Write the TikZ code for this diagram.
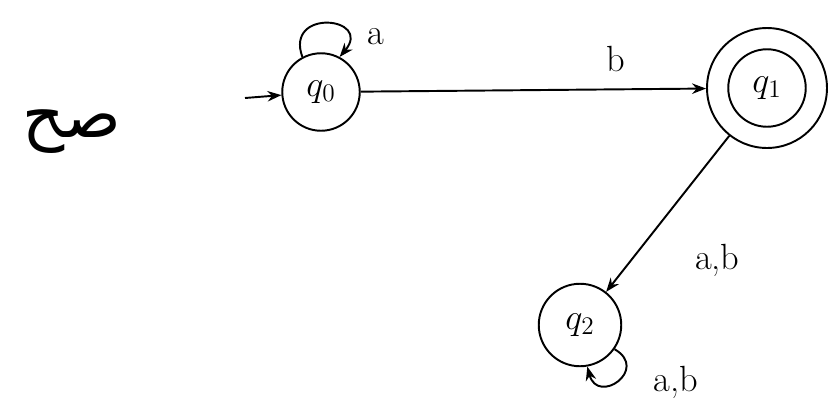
\documentclass[tikz,border=0pt]{standalone}
\usepackage{fontspec}
\newfontfamily\arabicfont[Script=Arabic]{DejaVu Sans}
\TeXXeTstate=1
\usetikzlibrary{arrows.meta, positioning}

\begin{document}
\begin{tikzpicture}[
    x=0.02cm, y=-0.02cm,
    >=Stealth,
    state/.style={draw, circle, line width=1.1pt, inner sep=0pt,
                  minimum size=1.55cm, font=\huge},
    trans/.style={->, line width=1.1pt},
    lbl/.style={font=\huge}
  ]
  \useasboundingbox (0,0) rectangle (829,403);

  % states
  \node[state] (q0) at (321, 92) {$q_0$};
  \node[state, minimum size=2.4cm] (q1) at (767, 88) {};
  \node[state] (q1in) at (q1.center) {$q_1$};
  \node[state, minimum size=1.65cm] (q2) at (580, 325) {$q_2$};
  \coordinate (start) at (245, 98);

  % transitions
  \draw[trans] (start) -- (q0);
  \draw[trans] (q0) -- node[lbl, above=6pt, pos=0.74] {b} (q1);
  \draw[trans] (q1) -- node[lbl, right=1.15cm, pos=0.8] {a,b} (q2);
  \draw[trans] (q0.118) to[out=110, in=50, looseness=3.6]
    node[lbl, right=8pt, pos=0.8] {a} (q0.62);
  \draw[trans] (q2.-35) to[out=-30, in=-75, looseness=3.2] (q2.-80);
  \node[lbl, below right=0.1cm and 0.75cm of q2] (l2) {a,b};

  % note
  \node[font=\Huge, scale=1.5] (note) at (72, 132) {\arabicfont\beginR صح\endR};
\end{tikzpicture}
\end{document}
